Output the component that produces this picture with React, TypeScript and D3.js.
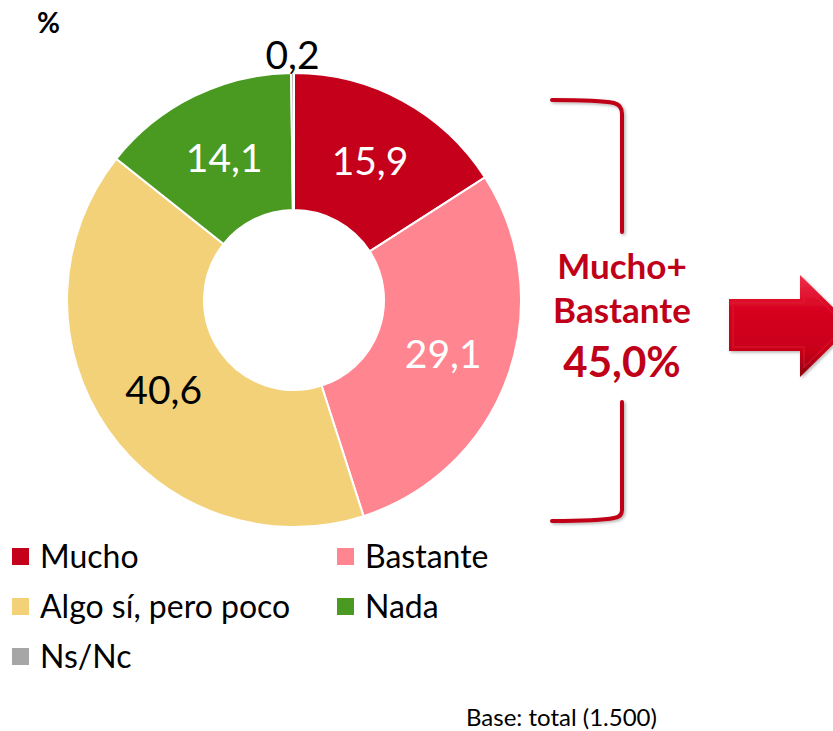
import React from "react";
import * as d3 from "d3";

const categories = ["Mucho", "Bastante", "Algo sí, pero poco", "Nada", "Ns/Nc"];
const values = [15.9, 29.1, 40.6, 14.1, 0.2];
const valueLabels = ["15,9", "29,1", "40,6", "14,1", "0,2"];
const colors = ["#C4001A", "#FF8591", "#F3D179", "#4A9A22", "#A6A6A6"];
const labelColors = ["#FFFFFF", "#FFFFFF", "#000000", "#FFFFFF", "#000000"];
const summaryLines = ["Mucho+", "Bastante"];
const summaryValue = "45,0%";
const baseNote = "Base: total (1.500)";

const FONT = "Lato, 'Open Sans', sans-serif";

export default function App() {
  const cx = 294, cy = 300, rOuter = 227, rInner = 90;
  const pie = d3.pie<number>().sort(null).value((d) => d).startAngle(0).endAngle(2 * Math.PI);
  const arcs = pie(values);
  const arc = d3.arc<d3.PieArcDatum<number>>().innerRadius(rInner).outerRadius(rOuter);
  const labelArc = d3.arc<d3.PieArcDatum<number>>().innerRadius(rInner).outerRadius(rOuter);
  const outerLabelArc = d3.arc<d3.PieArcDatum<number>>().innerRadius(245).outerRadius(245);

  const legendCols = [12, 337];
  const legendRows = [548, 598, 648];

  return (
    <svg width={833} height={731} style={{ position: "fixed", left: 0, top: 0, background: "#fff" }} fontFamily={FONT}>
      <defs>
        <linearGradient id="arrowGrad" x1="0" y1="0" x2="0" y2="1">
          <stop offset="0" stopColor="#F0304A" />
          <stop offset="0.35" stopColor="#D6001E" />
          <stop offset="0.75" stopColor="#C80019" />
          <stop offset="1" stopColor="#8E000E" />
        </linearGradient>
        <filter id="sh" x="-20%" y="-20%" width="140%" height="140%">
          <feDropShadow dx="1.5" dy="1.5" stdDeviation="1.5" floodColor="#000" floodOpacity="0.3" />
        </filter>
      </defs>
      <rect x={0} y={0} width={833} height={731} fill="#fff" />
      <text x={37} y={33} fontSize={28} fontWeight="bold" fill="#000">%</text>

      <g transform={`translate(${cx},${cy})`}>
        {arcs.map((a, i) => (
          <path key={i} d={arc(a) || ""} fill={colors[i]} stroke="#fff" strokeWidth={2} />
        ))}
        {arcs.map((a, i) => {
          const [x, y] = i === 4 ? outerLabelArc.centroid(a) : labelArc.centroid(a);
          return (
            <text key={"l" + i} x={x} y={y} dy="0.36em" textAnchor="middle" fontSize={39} fill={labelColors[i]}>
              {valueLabels[i]}
            </text>
          );
        })}
      </g>

      {categories.map((c, i) => {
        const x = legendCols[i % 2];
        const y = legendRows[Math.floor(i / 2)];
        return (
          <g key={"lg" + i}>
            <rect x={x} y={y} width={17} height={17} fill={colors[i]} />
            <text x={x + 28} y={y + 20} fontSize={32} fill="#000">{c}</text>
          </g>
        );
      })}

      <g filter="url(#sh)" fill="none" stroke="#C00018" strokeWidth={4} strokeLinecap="round">
        <path d="M552,100 Q600,100 614,103 Q622,105 622,114 L622,232" />
        <path d="M622,402 L622,510 Q622,517 614,518 Q600,521 552,521" />
      </g>
      <g fill="#C00018" fontWeight="bold" textAnchor="middle">
        <text x={622} y={279} fontSize={35}>{summaryLines[0]}</text>
        <text x={622} y={323} fontSize={35}>{summaryLines[1]}</text>
        <text x={622} y={377} fontSize={42}>{summaryValue}</text>
      </g>

      <g filter="url(#sh)">
        <path d="M729,299 L800,299 L800,275 L852,326 L800,377 L800,351 L729,351 Z" fill="url(#arrowGrad)" />
        <path d="M733,303 L804,303 L804,285 L846,326 L804,367 L804,347 L733,347 Z" fill="none" stroke="#E0203A" strokeOpacity={0.5} strokeWidth={1.5} />
      </g>

      <text x={466} y={726} fontSize={24} fill="#000">{baseNote}</text>
    </svg>
  );
}
